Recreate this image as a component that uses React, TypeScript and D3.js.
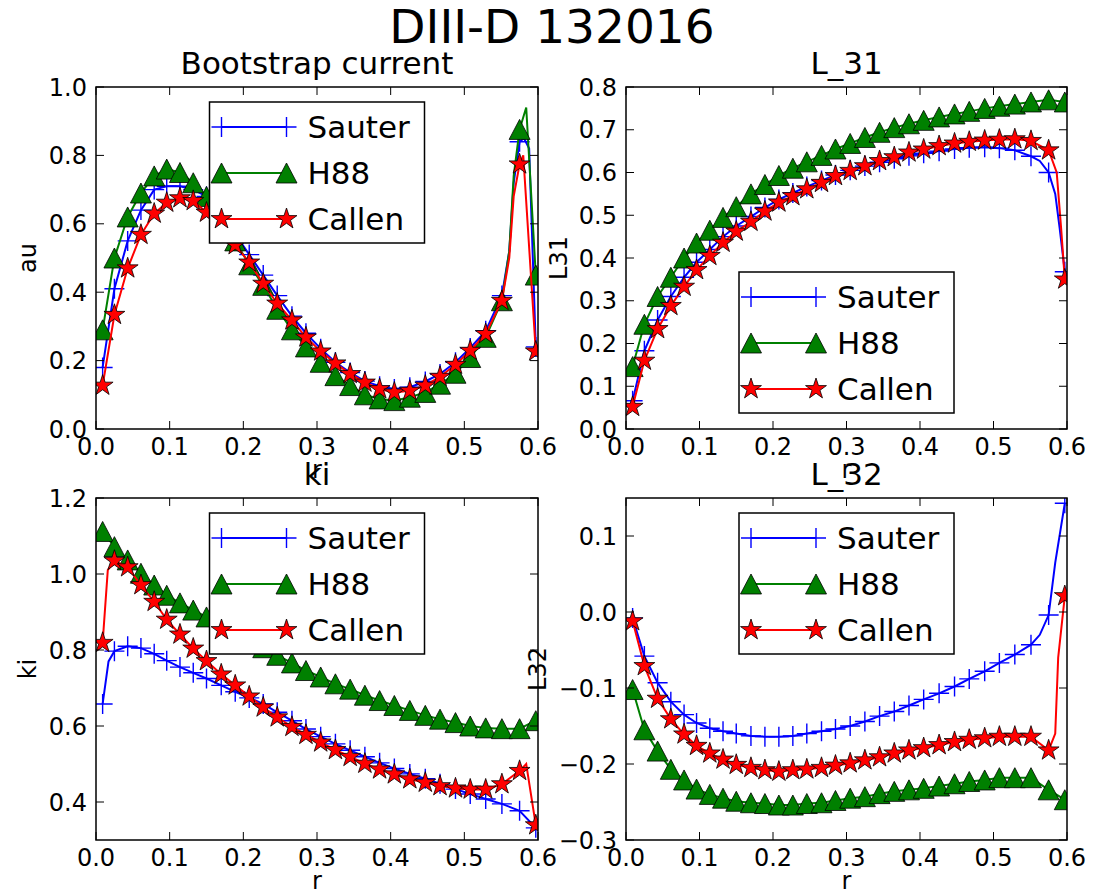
import React, { useRef, useEffect } from 'react';
import * as d3 from 'd3';

// radial grid shared by every curve (marker positions)
const R = [0.009, 0.025, 0.043, 0.061, 0.079, 0.096, 0.114, 0.132, 0.150, 0.170, 0.189, 0.208, 0.227, 0.246, 0.266, 0.285,
  0.305, 0.325, 0.345, 0.365, 0.385, 0.405, 0.426, 0.447, 0.467, 0.488, 0.508, 0.529, 0.551, 0.575, 0.597];

const SERIES_NAMES = ['Sauter', 'H88', 'Callen'];
const X_TICKS = [0, 0.1, 0.2, 0.3, 0.4, 0.5, 0.6];

// Bootstrap current
const bsSauter = [0.18, 0.41, 0.55, 0.64, 0.70, 0.71, 0.71, 0.70, 0.68, 0.64, 0.57, 0.51, 0.45, 0.39, 0.33, 0.28,
  0.235, 0.195, 0.165, 0.14, 0.125, 0.117, 0.122, 0.139, 0.161, 0.195, 0.237, 0.287, 0.39, 0.84, 0.24];
const bsH88 = [0.29, 0.50, 0.62, 0.69, 0.74, 0.76, 0.75, 0.72, 0.68, 0.62, 0.55, 0.48, 0.42, 0.35, 0.29, 0.24,
  0.195, 0.156, 0.127, 0.10, 0.088, 0.083, 0.093, 0.107, 0.131, 0.163, 0.209, 0.268, 0.375, 0.876, 0.45];
const bsCallen = [0.127, 0.334, 0.47, 0.568, 0.63, 0.662, 0.675, 0.667, 0.633, 0.59, 0.538, 0.487, 0.425, 0.367, 0.318, 0.268,
  0.227, 0.192, 0.161, 0.136, 0.117, 0.107, 0.112, 0.127, 0.153, 0.188, 0.229, 0.278, 0.375, 0.774, 0.227];
// extra line-only points (finer resolution near the edge)
const bsSauterLine = [[0.561, 0.52], [0.567, 0.72], [0.581, 0.85], [0.588, 0.82]];
const bsH88Line = [[0.561, 0.52], [0.567, 0.74], [0.584, 0.94]];
const bsCallenLine = [[0.561, 0.50], [0.567, 0.68], [0.580, 0.80]];

// L_31
const l31Sauter = [0.066, 0.183, 0.255, 0.31, 0.355, 0.39, 0.42, 0.45, 0.475, 0.497, 0.518, 0.537, 0.552, 0.567, 0.581, 0.594,
  0.605, 0.615, 0.624, 0.632, 0.639, 0.645, 0.65, 0.655, 0.658, 0.659, 0.657, 0.652, 0.638, 0.60, 0.368];
const l31H88 = [0.146, 0.245, 0.31, 0.355, 0.40, 0.435, 0.465, 0.495, 0.52, 0.55, 0.572, 0.593, 0.61, 0.625, 0.64, 0.655,
  0.668, 0.682, 0.694, 0.705, 0.714, 0.722, 0.73, 0.737, 0.743, 0.75, 0.755, 0.76, 0.765, 0.77, 0.765];
const l31Callen = [0.052, 0.16, 0.234, 0.288, 0.333, 0.372, 0.405, 0.436, 0.462, 0.485, 0.509, 0.53, 0.545, 0.561, 0.576, 0.592,
  0.604, 0.615, 0.627, 0.636, 0.647, 0.654, 0.662, 0.668, 0.672, 0.675, 0.677, 0.678, 0.674, 0.652, 0.35];
const l31SauterLine = [[0.563, 0.627], [0.584, 0.55], [0.590, 0.47]];
const l31CallenLine = [[0.586, 0.60], [0.592, 0.47]];

// ki
const kiSauter = [0.658, 0.797, 0.81, 0.805, 0.79, 0.772, 0.755, 0.74, 0.725, 0.707, 0.69, 0.674, 0.658, 0.636, 0.614, 0.592,
  0.572, 0.553, 0.536, 0.519, 0.503, 0.488, 0.474, 0.461, 0.448, 0.434, 0.421, 0.408, 0.395, 0.377, 0.332];
const kiH88 = [1.112, 1.072, 1.037, 1.002, 0.971, 0.944, 0.924, 0.905, 0.887, 0.866, 0.846, 0.826, 0.806, 0.786, 0.766, 0.746,
  0.729, 0.711, 0.697, 0.681, 0.667, 0.654, 0.641, 0.628, 0.618, 0.609, 0.600, 0.595, 0.593, 0.593, 0.614];
const kiCallen = [0.819, 1.035, 1.018, 0.971, 0.927, 0.88, 0.841, 0.804, 0.771, 0.736, 0.707, 0.678, 0.649, 0.623, 0.598, 0.577,
  0.557, 0.537, 0.519, 0.501, 0.486, 0.473, 0.46, 0.451, 0.442, 0.436, 0.433, 0.433, 0.447, 0.482, 0.339];
const kiSauterLine = [[0.017, 0.77]];
const kiCallenLine = [[0.016, 1.01], [0.584, 0.50]];

// L_32
const l32Sauter = [-0.008, -0.058, -0.093, -0.118, -0.135, -0.146, -0.153, -0.157, -0.16, -0.163, -0.164, -0.164, -0.163, -0.16,
  -0.157, -0.154, -0.15, -0.144, -0.137, -0.131, -0.123, -0.115, -0.107, -0.098, -0.088, -0.078, -0.067, -0.056, -0.043, -0.004, 0.143];
const l32H88 = [-0.102, -0.155, -0.183, -0.207, -0.221, -0.233, -0.24, -0.245, -0.249, -0.251, -0.252, -0.254, -0.254, -0.252,
  -0.251, -0.248, -0.245, -0.243, -0.239, -0.236, -0.234, -0.232, -0.229, -0.226, -0.223, -0.221, -0.218, -0.218, -0.218, -0.234, -0.247];
const l32Callen = [-0.012, -0.071, -0.114, -0.141, -0.161, -0.176, -0.186, -0.194, -0.201, -0.205, -0.208, -0.21, -0.208, -0.207,
  -0.205, -0.202, -0.199, -0.195, -0.191, -0.186, -0.182, -0.179, -0.175, -0.171, -0.168, -0.166, -0.164, -0.164, -0.164, -0.182, 0.021];
const l32SauterLine = [[0.563, -0.030], [0.584, 0.065]];
const l32CallenLine = [[0.584, -0.16], [0.588, -0.06]];

const FONT = '"DejaVu Sans", sans-serif';
const COLORS = ['#0000ff', '#008000', '#ff0000'];

const starPath = (ro: number) => {
  const ri = ro * 0.381966;
  const pts: string[] = [];
  for (let i = 0; i < 10; i++) {
    const a = -Math.PI / 2 + (i * Math.PI) / 5;
    const rr = i % 2 === 0 ? ro : ri;
    pts.push(`${(rr * Math.cos(a)).toFixed(2)},${(rr * Math.sin(a)).toFixed(2)}`);
  }
  return 'M' + pts.join('L') + 'Z';
};

const drawMarker = (g: any, kind: number, x: number, y: number) => {
  if (kind === 0) {
    g.append('path').attr('d', `M${x - 10},${y}H${x + 10}M${x},${y - 10}V${y + 10}`)
      .attr('stroke', COLORS[0]).attr('stroke-width', 1.4).attr('fill', 'none');
  } else if (kind === 1) {
    g.append('path').attr('d', `M${x},${y - 10}L${x + 10.5},${y + 10}L${x - 10.5},${y + 10}Z`)
      .attr('fill', COLORS[1]).attr('stroke', '#000').attr('stroke-width', 0.8);
  } else {
    g.append('path').attr('d', starPath(11)).attr('transform', `translate(${x},${y})`)
      .attr('fill', COLORS[2]).attr('stroke', '#000').attr('stroke-width', 0.8);
  }
};

const App: React.FC = () => {
  const svgRef = useRef<SVGSVGElement>(null);

  useEffect(() => {
    document.body.style.margin = '0';
    if (!svgRef.current) return;
    const svg = d3.select(svgRef.current);
    svg.selectAll('*').remove();

    const panels = [
      { title: 'Bootstrap current', ylabel: 'au', box: [96, 538, 87, 429], yDomain: [0, 1], yTicks: [0, 0.2, 0.4, 0.6, 0.8, 1.0],
        legend: 'upper', data: [bsSauter, bsH88, bsCallen], extra: [bsSauterLine, bsH88Line, bsCallenLine], ylabelOff: 60 },
      { title: 'L_31', ylabel: 'L31', box: [626, 1067, 87, 429], yDomain: [0, 0.8], yTicks: [0, 0.1, 0.2, 0.3, 0.4, 0.5, 0.6, 0.7, 0.8],
        legend: 'lower', data: [l31Sauter, l31H88, l31Callen], extra: [l31SauterLine, [], l31CallenLine], ylabelOff: 59 },
      { title: 'ki', ylabel: 'ki', box: [96, 538, 498, 840], yDomain: [0.3, 1.2], yTicks: [0.4, 0.6, 0.8, 1.0, 1.2],
        legend: 'upper', data: [kiSauter, kiH88, kiCallen], extra: [kiSauterLine, [], kiCallenLine], ylabelOff: 60 },
      { title: 'L_32', ylabel: 'L32', box: [626, 1067, 498, 840], yDomain: [-0.3, 0.15], yTicks: [-0.3, -0.2, -0.1, 0, 0.1],
        legend: 'upper', data: [l32Sauter, l32H88, l32Callen], extra: [l32SauterLine, [], l32CallenLine], ylabelOff: 80 },
    ];

    svg.append('text').attr('x', 552).attr('y', 43).attr('text-anchor', 'middle')
      .attr('font-family', FONT).attr('font-size', 47).text('DIII-D 132016');

    const fmt = d3.format('.1f');

    panels.forEach((p, pi) => {
      const [x0, x1, y0, y1] = p.box;
      const x = d3.scaleLinear().domain([0, 0.6]).range([x0, x1]);
      const y = d3.scaleLinear().domain(p.yDomain).range([y1, y0]);
      const g = svg.append('g');

      const clipId = `clip${pi}`;
      svg.append('clipPath').attr('id', clipId).append('rect')
        .attr('x', x0).attr('y', y0).attr('width', x1 - x0).attr('height', y1 - y0);

      g.append('rect').attr('x', x0).attr('y', y0).attr('width', x1 - x0).attr('height', y1 - y0).attr('fill', '#fff');

      // curves: line first, then its markers, series by series
      const plot = g.append('g').attr('clip-path', `url(#${clipId})`);
      p.data.forEach((vals, si) => {
        const pts: number[][] = R.map((r, i) => [r, vals[i]]).concat(p.extra[si] as number[][]);
        pts.sort((a, b) => a[0] - b[0]);
        const line = d3.line<number[]>().x(d => x(d[0])).y(d => y(d[1]));
        plot.append('path').attr('d', line(pts)).attr('fill', 'none')
          .attr('stroke', COLORS[si]).attr('stroke-width', 2);
        R.forEach((r, i) => drawMarker(plot, si, x(r), y(vals[i])));
      });

      // ticks (inward, all four sides)
      const axes = g.append('g').attr('stroke', '#000').attr('stroke-width', 1);
      X_TICKS.forEach(t => {
        axes.append('line').attr('x1', x(t)).attr('x2', x(t)).attr('y1', y1).attr('y2', y1 - 8);
        axes.append('line').attr('x1', x(t)).attr('x2', x(t)).attr('y1', y0).attr('y2', y0 + 8);
        g.append('text').attr('x', x(t)).attr('y', y1 + 26).attr('text-anchor', 'middle')
          .attr('font-family', FONT).attr('font-size', 24).text(fmt(t));
      });
      p.yTicks.forEach(t => {
        axes.append('line').attr('x1', x0).attr('x2', x0 + 8).attr('y1', y(t)).attr('y2', y(t));
        axes.append('line').attr('x1', x1).attr('x2', x1 - 8).attr('y1', y(t)).attr('y2', y(t));
        g.append('text').attr('x', x0 - 9).attr('y', y(t)).attr('dy', '0.36em').attr('text-anchor', 'end')
          .attr('font-family', FONT).attr('font-size', 24).text(fmt(t).replace('-', '\u2212'));
      });
      g.append('rect').attr('x', x0).attr('y', y0).attr('width', x1 - x0).attr('height', y1 - y0)
        .attr('fill', 'none').attr('stroke', '#000').attr('stroke-width', 1.5);

      // labels
      g.append('text').attr('x', (x0 + x1) / 2).attr('y', y1 + 49).attr('text-anchor', 'middle')
        .attr('font-family', FONT).attr('font-size', 24).text('r');
      g.append('text').attr('transform', `translate(${x0 - p.ylabelOff},${(y0 + y1) / 2}) rotate(-90)`)
        .attr('text-anchor', 'middle').attr('font-family', FONT).attr('font-size', 24).text(p.ylabel);
      g.append('text').attr('x', (x0 + x1) / 2).attr('y', y0 - 13).attr('text-anchor', 'middle')
        .attr('font-family', FONT).attr('font-size', 31).text(p.title);

      // legend
      const lw = 215, lh = 141;
      const lx = (x0 + x1) / 2 - lw / 2;
      const ly = p.legend === 'upper' ? y0 + 15 : y1 - 16 - lh;
      const lg = svg.append('g').attr('transform', `translate(${lx},${ly})`);
      lg.append('rect').attr('width', lw).attr('height', lh).attr('fill', '#fff')
        .attr('stroke', '#000').attr('stroke-width', 1.5);
      SERIES_NAMES.forEach((name, si) => {
        const ry = 25 + si * 46;
        lg.append('line').attr('x1', 12).attr('x2', 77).attr('y1', ry).attr('y2', ry)
          .attr('stroke', COLORS[si]).attr('stroke-width', 2);
        drawMarker(lg, si, 12, ry);
        drawMarker(lg, si, 77, ry);
        lg.append('text').attr('x', 98).attr('y', ry).attr('dy', '0.36em')
          .attr('font-family', FONT).attr('font-size', 31).text(name);
      });
    });
  }, []);

  return (
    <svg ref={svgRef} width={1104} height={892}
      style={{ display: 'block', background: '#fff' }} />
  );
};

export default App;
